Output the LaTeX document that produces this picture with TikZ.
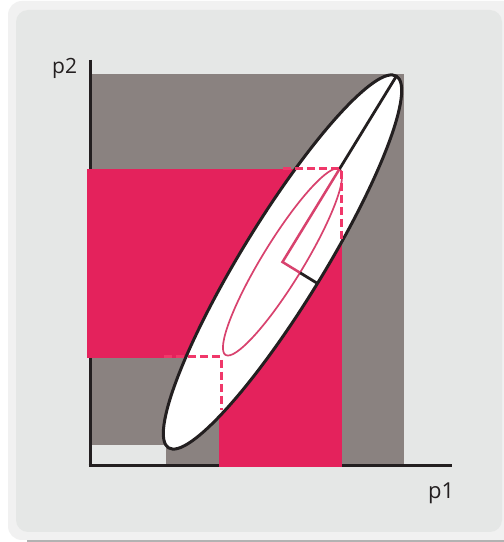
\documentclass[tikz,border=0pt]{standalone}
\usepackage{fontspec}
\setmainfont{Open Sans}
\usetikzlibrary{calc}
\definecolor{framebg}{HTML}{F1F1F1}
\definecolor{panelbg}{HTML}{E5E7E6}
\definecolor{boxgray}{HTML}{8A8280}
\definecolor{pinkfill}{HTML}{E4225C}
\definecolor{pinkline}{HTML}{D8426E}
\definecolor{pinkdash}{HTML}{F0386A}
\definecolor{ink}{HTML}{231F20}
\begin{document}
\begin{tikzpicture}[x=1pt,y=1pt,
  axisline/.style={draw=ink,line width=3pt},
  bigell/.style={draw=ink,fill=white,line width=3pt},
  smallell/.style={draw=pinkline,line width=1.7pt},
  axisink/.style={draw=ink,line width=2.8pt},
  axispink/.style={draw=pinkline,line width=2.5pt},
  dashline/.style={draw=pinkdash,line width=3pt,dash pattern=on 8pt off 4pt},
  lbl/.style={text=ink,inner sep=0pt}]
\useasboundingbox (0,0) rectangle (504,542);
\clip (0,0) rectangle (504,542);
\fill[white] (0,0) rectangle (504,542);
% frame
\fill[framebg,rounded corners=14pt] (8,2) rectangle (520,541);
\fill[panelbg,rounded corners=12pt] (16,10) rectangle (502,532);
\draw[black!30,line width=1.5pt] (27,0.8) -- (504,0.8);
% gray bounding region
\fill[boxgray] (90,76) rectangle (404,468);
\fill[panelbg] (91.5,76) rectangle (166,97);
% axes
\coordinate (origin) at (90,76);
\coordinate (ytop) at (90,482);
\coordinate (xend) at (452,76);
\draw[axisline] (ytop) -- (90,74.5);
\draw[axisline] (88.5,76) -- (xend);
% pink projection bands
\fill[pinkfill] (87,184) rectangle (342,373);
\fill[pinkfill] (219,75) rectangle (342,373);
% ellipses
\coordinate (c) at (282.5,280);
\draw[bigell,rotate around={58.5:(c)}] (c) ellipse [x radius=218pt, y radius=41pt];
\draw[smallell,rotate around={58.5:(c)}] (c) ellipse [x radius=109pt, y radius=20.5pt];
% semi-axes
\coordinate (inTop) at ($(c)+(58.5:109)$);
\coordinate (outTop) at ($(c)+(58.5:218)$);
\coordinate (inSide) at ($(c)+(-31.5:20.5)$);
\coordinate (outSide) at ($(c)+(-31.5:41)$);
\draw[axisink,line cap=round] (inTop) -- (outTop);
\draw[axisink] (inSide) -- (outSide);
\draw[axispink,line join=miter] (inTop) -- (c) -- (inSide);
% dashed projection lines
\coordinate (dA) at (164,185);
\coordinate (dB) at (221,185);
\coordinate (dC) at (221,132);
\coordinate (dD) at (283,373);
\coordinate (dE) at (341,373);
\coordinate (dF) at (341,303);
\draw[dashline] (dA) -- (dB) -- (dC);
\draw[dashline] (dD) -- (dE) -- (dF);
% labels
\node[lbl,font=\fontsize{21}{24}\selectfont,anchor=base west] (p2) at (52,468) {p2};
\node[lbl,font=\fontsize{22}{25}\selectfont,anchor=base west] (p1) at (428,43) {p1};
\end{tikzpicture}
\end{document}
